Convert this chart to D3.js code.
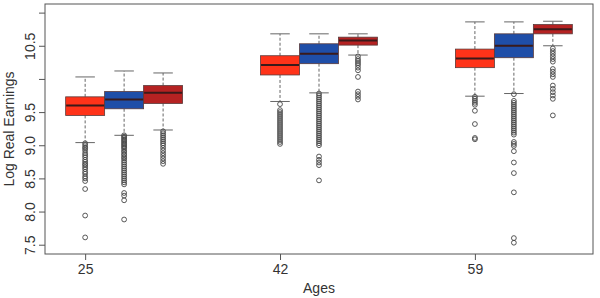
<!DOCTYPE html>
<html>
<head>
<meta charset="utf-8">
<script src="https://cdn.jsdelivr.net/npm/d3@7"></script>
<style>
  body { margin: 0; background: #fff; }
  svg { display: block; font-family: "Liberation Sans", Arial, sans-serif; }
</style>
</head>
<body>
<div id="chart"></div>
<script>
"use strict";
// ages on the x axis, one group of three boxes per age
const ages = [25, 42, 59];
const seriesNames = ["s1", "s2", "s3"];
const seriesColors = ["#ff3319", "#1f4ea8", "#b52222"];
const yTicks = [7.5, 8.0, 8.5, 9.0, 9.5, 10.0, 10.5, 11.0];
const yLabels = ["7.5", "8.0", "8.5", "9.0", "9.5", "", "10.5", ""];

// [lower whisker, q1, median, q3, upper whisker] per age
const stats1 = [[9.04, 9.45, 9.60, 9.73, 10.03], [9.66, 10.06, 10.21, 10.35, 10.68], [9.74, 10.17, 10.31, 10.45, 10.86]];
const stats2 = [[9.15, 9.55, 9.69, 9.81, 10.12], [9.79, 10.23, 10.38, 10.53, 10.68], [9.78, 10.32, 10.50, 10.68, 10.86]];
const stats3 = [[9.23, 9.63, 9.79, 9.90, 10.09], [10.36, 10.51, 10.58, 10.63, 10.68], [10.50, 10.68, 10.75, 10.82, 10.87]];

// outliers per age
const out1 = [
  [9.03, 9.00, 8.97, 8.95, 8.92, 8.88, 8.85, 8.82, 8.78, 8.75, 8.72, 8.70, 8.67, 8.64, 8.60, 8.57, 8.53, 8.50, 8.46, 8.34, 7.94, 7.61],
  [9.62, 9.53, 9.50, 9.47, 9.44, 9.41, 9.38, 9.35, 9.32, 9.29, 9.26, 9.23, 9.20, 9.17, 9.14, 9.11, 9.08, 9.05, 9.02],
  [9.73, 9.70, 9.67, 9.64, 9.61, 9.52, 9.32, 9.11, 9.09]
];
const out2 = [
  [9.15, 9.13, 9.11, 9.09, 9.07, 9.05, 9.03, 9.01, 8.99, 8.97, 8.95, 8.92, 8.90, 8.87, 8.85, 8.82, 8.80, 8.77, 8.74, 8.71, 8.68, 8.65, 8.62, 8.59, 8.56, 8.53, 8.50, 8.47, 8.44, 8.41, 8.28, 8.24, 8.17, 7.88],
  [9.78, 9.75, 9.72, 9.69, 9.66, 9.63, 9.60, 9.57, 9.54, 9.51, 9.48, 9.45, 9.42, 9.39, 9.36, 9.33, 9.30, 9.27, 9.24, 9.21, 9.18, 9.15, 9.12, 9.09, 9.06, 9.03, 9.00, 8.83, 8.78, 8.74, 8.70, 8.47],
  [9.77, 9.67, 9.64, 9.61, 9.58, 9.55, 9.52, 9.49, 9.46, 9.43, 9.40, 9.37, 9.34, 9.31, 9.28, 9.25, 9.22, 9.19, 9.16, 9.05, 9.02, 8.99, 8.91, 8.74, 8.58, 8.29, 7.60, 7.53]
];
const out3 = [
  [9.21, 9.18, 9.15, 9.12, 9.09, 9.06, 9.03, 9.00, 8.96, 8.92, 8.88, 8.84, 8.80, 8.76, 8.72],
  [10.34, 10.30, 10.27, 10.24, 10.21, 10.17, 10.13, 10.03, 9.81, 9.77, 9.73, 9.69],
  [10.46, 10.42, 10.38, 10.34, 10.30, 10.26, 10.15, 10.11, 10.07, 10.03, 9.90, 9.85, 9.80, 9.75, 9.70, 9.45]
];

const allStats = [stats1, stats2, stats3];
const allOut = [out1, out2, out3];

const W = 600, H = 298;
const plot = { left: 45, right: 593, top: 4, bottom: 254 };

const svg = d3.select("#chart").append("svg")
  .attr("width", W).attr("height", H)
  .attr("viewBox", `0 0 ${W} ${H}`);

// box positions: 1,2,3 | 6,7,8 | 11,12,13
const x = d3.scaleLinear().domain([-0.03, 14.03]).range([plot.left, plot.right]);
const y = d3.scaleLinear().domain([7.36, 11.13]).range([plot.bottom, plot.top]);
const unit = x(1) - x(0);
const boxW = unit * 1.0;
const capW = boxW / 2;

const boxes = [];
seriesNames.forEach((name, s) => {
  ages.forEach((age, a) => {
    const st = allStats[s][a];
    boxes.push({
      series: s, age: age, pos: 1 + a * 5 + s,
      lo: st[0], q1: st[1], med: st[2], q3: st[3], hi: st[4],
      out: allOut[s][a]
    });
  });
});

const g = svg.append("g");

// whiskers
const wk = g.selectAll("g.wk").data(boxes).join("g").attr("class", "wk");
wk.append("line")
  .attr("x1", d => x(d.pos)).attr("x2", d => x(d.pos))
  .attr("y1", d => y(d.q3)).attr("y2", d => y(d.hi))
  .attr("stroke", "#666").attr("stroke-dasharray", "3,2");
wk.append("line")
  .attr("x1", d => x(d.pos)).attr("x2", d => x(d.pos))
  .attr("y1", d => y(d.q1)).attr("y2", d => y(d.lo))
  .attr("stroke", "#666").attr("stroke-dasharray", "3,2");
wk.append("line")
  .attr("x1", d => x(d.pos) - capW / 2).attr("x2", d => x(d.pos) + capW / 2)
  .attr("y1", d => y(d.hi)).attr("y2", d => y(d.hi))
  .attr("stroke", "#666");
wk.append("line")
  .attr("x1", d => x(d.pos) - capW / 2).attr("x2", d => x(d.pos) + capW / 2)
  .attr("y1", d => y(d.lo)).attr("y2", d => y(d.lo))
  .attr("stroke", "#666");

// boxes
g.selectAll("rect.box").data(boxes).join("rect").attr("class", "box")
  .attr("x", d => x(d.pos) - boxW / 2)
  .attr("width", boxW)
  .attr("y", d => y(d.q3))
  .attr("height", d => y(d.q1) - y(d.q3))
  .attr("fill", d => seriesColors[d.series])
  .attr("stroke", "#5a3a3a").attr("stroke-width", 0.8);

// medians
g.selectAll("line.med").data(boxes).join("line").attr("class", "med")
  .attr("x1", d => x(d.pos) - boxW / 2 + 0.5).attr("x2", d => x(d.pos) + boxW / 2 - 0.5)
  .attr("y1", d => y(d.med)).attr("y2", d => y(d.med))
  .attr("stroke", "#3a1a1a").attr("stroke-width", 2);

// outliers
const pts = boxes.flatMap(d => d.out.map(v => ({ pos: d.pos, v })));
g.selectAll("circle.out").data(pts).join("circle").attr("class", "out")
  .attr("cx", d => x(d.pos)).attr("cy", d => y(d.v))
  .attr("r", 2.4).attr("fill", "none")
  .attr("stroke", "#444").attr("stroke-width", 0.9);

// frame
svg.append("rect")
  .attr("x", plot.left).attr("y", plot.top)
  .attr("width", plot.right - plot.left).attr("height", plot.bottom - plot.top)
  .attr("fill", "none").attr("stroke", "#555").attr("stroke-width", 1);

// y axis
const yAxis = d3.axisLeft(y).tickValues(yTicks)
  .tickSize(6).tickPadding(4)
  .tickFormat((d, i) => yLabels[i]);
const ya = svg.append("g").attr("transform", `translate(${plot.left},0)`).call(yAxis);
ya.select(".domain").remove();
ya.selectAll(".tick line").attr("stroke", "#555");
ya.selectAll(".tick text")
  .attr("transform", "rotate(-90)")
  .attr("x", 0).attr("y", -10)
  .attr("dy", 0)
  .attr("text-anchor", "middle")
  .attr("fill", "#333").style("font-size", "14px");

// x axis
const xAxis = d3.axisBottom(x).tickValues([1, 6, 11])
  .tickSize(6).tickPadding(4)
  .tickFormat((d, i) => ages[i]);
const xa = svg.append("g").attr("transform", `translate(0,${plot.bottom})`).call(xAxis);
xa.select(".domain").remove();
xa.selectAll(".tick line").attr("stroke", "#555");
xa.selectAll(".tick text").attr("fill", "#333").style("font-size", "14px");

// axis titles
svg.append("text")
  .attr("x", (plot.left + plot.right) / 2).attr("y", 293)
  .attr("text-anchor", "middle").attr("fill", "#333")
  .style("font-size", "14px").text("Ages");
svg.append("text")
  .attr("transform", `translate(14,${(plot.top + plot.bottom) / 2}) rotate(-90)`)
  .attr("text-anchor", "middle").attr("fill", "#333")
  .style("font-size", "14px").text("Log Real Earnings");
</script>
</body>
</html>
